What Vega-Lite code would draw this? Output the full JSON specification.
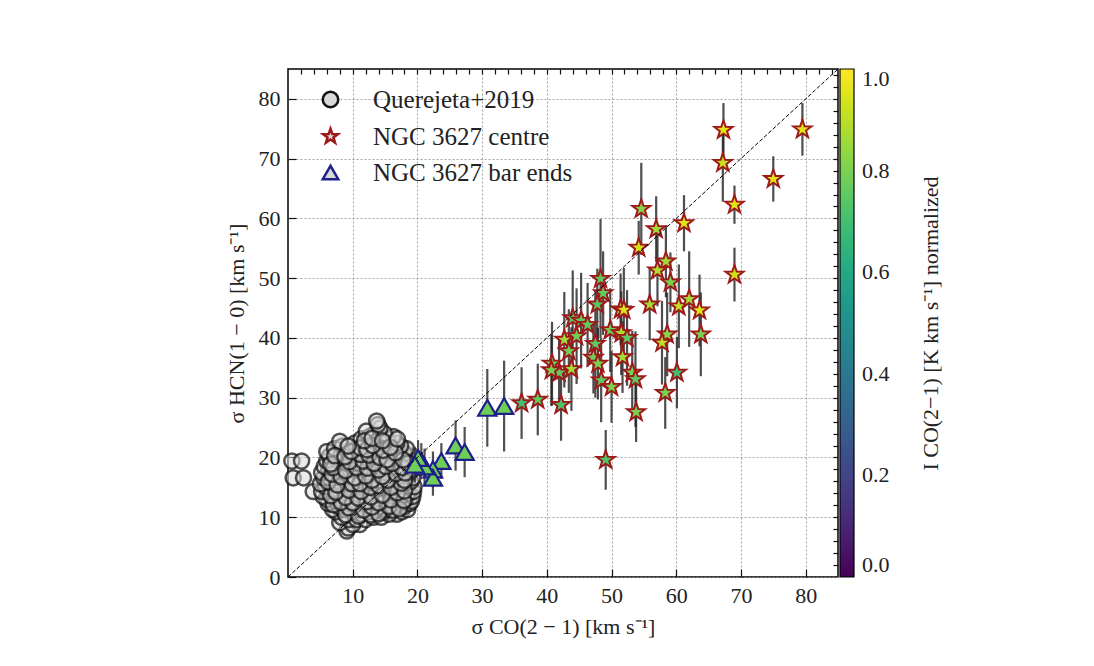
{
  "$schema": "https://vega.github.io/schema/vega-lite/v6.json",
  "width": 550,
  "height": 508,
  "autosize": {"type": "none"},
  "padding": {"left": 288, "top": 69, "right": 256, "bottom": 89},
  "background": "white",
  "config": {
    "font": "Liberation Serif",
    "view": {"stroke": "black", "strokeWidth": 1.5},
    "axis": {"labelFontSize": 22, "titleFontSize": 22, "titleFontWeight": "normal", "labelColor": "#222", "titleColor": "#222", "domain": false, "tickColor": "#111", "tickWidth": 1.2}
  },
  "datasets": {
    "q": [
      {"x":9.1,"y":7.7,"g":"Querejeta+2019"},{"x":9.3,"y":8.2,"g":"Querejeta+2019"},{"x":11.1,"y":8.8,"g":"Querejeta+2019"},{"x":10.0,"y":8.8,"g":"Querejeta+2019"},{"x":8.0,"y":9.1,"g":"Querejeta+2019"},
      {"x":9.4,"y":9.6,"g":"Querejeta+2019"},{"x":10.6,"y":9.6,"g":"Querejeta+2019"},{"x":12.0,"y":9.6,"g":"Querejeta+2019"},{"x":8.3,"y":10.0,"g":"Querejeta+2019"},{"x":13.2,"y":10.0,"g":"Querejeta+2019"},
      {"x":14.4,"y":10.0,"g":"Querejeta+2019"},{"x":16.8,"y":10.5,"g":"Querejeta+2019"},{"x":15.6,"y":10.5,"g":"Querejeta+2019"},{"x":11.3,"y":10.5,"g":"Querejeta+2019"},{"x":7.4,"y":10.9,"g":"Querejeta+2019"},
      {"x":9.9,"y":10.9,"g":"Querejeta+2019"},{"x":12.5,"y":10.9,"g":"Querejeta+2019"},{"x":14.8,"y":10.9,"g":"Querejeta+2019"},{"x":17.6,"y":10.9,"g":"Querejeta+2019"},{"x":6.9,"y":11.3,"g":"Querejeta+2019"},
      {"x":8.6,"y":11.3,"g":"Querejeta+2019"},{"x":15.0,"y":11.3,"g":"Querejeta+2019"},{"x":18.5,"y":11.3,"g":"Querejeta+2019"},{"x":11.0,"y":11.3,"g":"Querejeta+2019"},{"x":13.6,"y":11.3,"g":"Querejeta+2019"},
      {"x":7.8,"y":11.8,"g":"Querejeta+2019"},{"x":10.2,"y":11.8,"g":"Querejeta+2019"},{"x":12.4,"y":11.8,"g":"Querejeta+2019"},{"x":14.2,"y":11.8,"g":"Querejeta+2019"},{"x":16.3,"y":11.8,"g":"Querejeta+2019"},
      {"x":17.9,"y":11.8,"g":"Querejeta+2019"},{"x":6.2,"y":12.3,"g":"Querejeta+2019"},{"x":9.0,"y":12.3,"g":"Querejeta+2019"},{"x":11.6,"y":12.3,"g":"Querejeta+2019"},{"x":13.1,"y":12.3,"g":"Querejeta+2019"},
      {"x":15.4,"y":12.3,"g":"Querejeta+2019"},{"x":17.2,"y":12.3,"g":"Querejeta+2019"},{"x":18.8,"y":12.3,"g":"Querejeta+2019"},{"x":7.3,"y":12.7,"g":"Querejeta+2019"},{"x":10.4,"y":12.7,"g":"Querejeta+2019"},
      {"x":14.6,"y":12.7,"g":"Querejeta+2019"},{"x":16.7,"y":12.7,"g":"Querejeta+2019"},{"x":19.1,"y":12.7,"g":"Querejeta+2019"},{"x":6.0,"y":13.0,"g":"Querejeta+2019"},{"x":8.3,"y":13.0,"g":"Querejeta+2019"},
      {"x":12.1,"y":13.0,"g":"Querejeta+2019"},{"x":13.8,"y":13.0,"g":"Querejeta+2019"},{"x":18.2,"y":13.0,"g":"Querejeta+2019"},{"x":5.4,"y":13.5,"g":"Querejeta+2019"},{"x":7.0,"y":13.5,"g":"Querejeta+2019"},
      {"x":9.6,"y":13.5,"g":"Querejeta+2019"},{"x":11.2,"y":13.5,"g":"Querejeta+2019"},{"x":15.1,"y":13.5,"g":"Querejeta+2019"},{"x":16.4,"y":13.5,"g":"Querejeta+2019"},{"x":17.6,"y":13.5,"g":"Querejeta+2019"},
      {"x":19.3,"y":13.5,"g":"Querejeta+2019"},{"x":6.4,"y":14.0,"g":"Querejeta+2019"},{"x":8.8,"y":14.0,"g":"Querejeta+2019"},{"x":10.5,"y":14.0,"g":"Querejeta+2019"},{"x":12.9,"y":14.0,"g":"Querejeta+2019"},
      {"x":14.3,"y":14.0,"g":"Querejeta+2019"},{"x":18.6,"y":14.0,"g":"Querejeta+2019"},{"x":3.9,"y":14.3,"g":"Querejeta+2019"},{"x":5.2,"y":14.3,"g":"Querejeta+2019"},{"x":16.0,"y":14.3,"g":"Querejeta+2019"},
      {"x":19.4,"y":14.3,"g":"Querejeta+2019"},{"x":7.6,"y":14.7,"g":"Querejeta+2019"},{"x":9.9,"y":14.7,"g":"Querejeta+2019"},{"x":11.8,"y":14.7,"g":"Querejeta+2019"},{"x":13.5,"y":14.7,"g":"Querejeta+2019"},
      {"x":15.3,"y":14.7,"g":"Querejeta+2019"},{"x":17.3,"y":14.7,"g":"Querejeta+2019"},{"x":5.8,"y":15.1,"g":"Querejeta+2019"},{"x":8.4,"y":15.1,"g":"Querejeta+2019"},{"x":10.9,"y":15.1,"g":"Querejeta+2019"},
      {"x":14.5,"y":15.1,"g":"Querejeta+2019"},{"x":16.6,"y":15.1,"g":"Querejeta+2019"},{"x":18.4,"y":15.1,"g":"Querejeta+2019"},{"x":19.5,"y":15.1,"g":"Querejeta+2019"},{"x":5.0,"y":15.6,"g":"Querejeta+2019"},
      {"x":6.9,"y":15.6,"g":"Querejeta+2019"},{"x":9.3,"y":15.6,"g":"Querejeta+2019"},{"x":12.3,"y":15.6,"g":"Querejeta+2019"},{"x":13.4,"y":15.6,"g":"Querejeta+2019"},{"x":15.8,"y":15.6,"g":"Querejeta+2019"},
      {"x":17.9,"y":15.6,"g":"Querejeta+2019"},{"x":7.9,"y":16.0,"g":"Querejeta+2019"},{"x":10.2,"y":16.0,"g":"Querejeta+2019"},{"x":11.5,"y":16.0,"g":"Querejeta+2019"},{"x":14.2,"y":16.0,"g":"Querejeta+2019"},
      {"x":16.9,"y":16.0,"g":"Querejeta+2019"},{"x":19.0,"y":16.0,"g":"Querejeta+2019"},{"x":0.8,"y":16.6,"g":"Querejeta+2019"},{"x":2.4,"y":16.6,"g":"Querejeta+2019"},{"x":5.5,"y":16.6,"g":"Querejeta+2019"},
      {"x":6.4,"y":16.6,"g":"Querejeta+2019"},{"x":8.9,"y":16.6,"g":"Querejeta+2019"},{"x":12.8,"y":16.6,"g":"Querejeta+2019"},{"x":15.2,"y":16.6,"g":"Querejeta+2019"},{"x":18.3,"y":16.6,"g":"Querejeta+2019"},
      {"x":19.3,"y":16.6,"g":"Querejeta+2019"},{"x":7.3,"y":17.0,"g":"Querejeta+2019"},{"x":9.8,"y":17.0,"g":"Querejeta+2019"},{"x":11.2,"y":17.0,"g":"Querejeta+2019"},{"x":13.9,"y":17.0,"g":"Querejeta+2019"},
      {"x":16.1,"y":17.0,"g":"Querejeta+2019"},{"x":17.5,"y":17.0,"g":"Querejeta+2019"},{"x":5.2,"y":17.5,"g":"Querejeta+2019"},{"x":8.5,"y":17.5,"g":"Querejeta+2019"},{"x":10.7,"y":17.5,"g":"Querejeta+2019"},
      {"x":12.4,"y":17.5,"g":"Querejeta+2019"},{"x":14.8,"y":17.5,"g":"Querejeta+2019"},{"x":18.8,"y":17.5,"g":"Querejeta+2019"},{"x":6.3,"y":18.0,"g":"Querejeta+2019"},{"x":7.8,"y":18.0,"g":"Querejeta+2019"},
      {"x":9.5,"y":18.0,"g":"Querejeta+2019"},{"x":13.3,"y":18.0,"g":"Querejeta+2019"},{"x":15.7,"y":18.0,"g":"Querejeta+2019"},{"x":17.0,"y":18.0,"g":"Querejeta+2019"},{"x":19.2,"y":18.0,"g":"Querejeta+2019"},
      {"x":5.6,"y":18.5,"g":"Querejeta+2019"},{"x":11.6,"y":18.5,"g":"Querejeta+2019"},{"x":14.3,"y":18.5,"g":"Querejeta+2019"},{"x":16.5,"y":18.5,"g":"Querejeta+2019"},{"x":18.1,"y":18.5,"g":"Querejeta+2019"},
      {"x":7.1,"y":19.0,"g":"Querejeta+2019"},{"x":8.8,"y":19.0,"g":"Querejeta+2019"},{"x":10.4,"y":19.0,"g":"Querejeta+2019"},{"x":12.8,"y":19.0,"g":"Querejeta+2019"},{"x":15.3,"y":19.0,"g":"Querejeta+2019"},
      {"x":17.6,"y":19.0,"g":"Querejeta+2019"},{"x":19.1,"y":19.0,"g":"Querejeta+2019"},{"x":0.6,"y":19.4,"g":"Querejeta+2019"},{"x":2.1,"y":19.4,"g":"Querejeta+2019"},{"x":6.0,"y":19.4,"g":"Querejeta+2019"},
      {"x":13.9,"y":19.4,"g":"Querejeta+2019"},{"x":16.6,"y":19.4,"g":"Querejeta+2019"},{"x":7.7,"y":19.8,"g":"Querejeta+2019"},{"x":9.6,"y":19.8,"g":"Querejeta+2019"},{"x":11.1,"y":19.8,"g":"Querejeta+2019"},
      {"x":12.2,"y":19.8,"g":"Querejeta+2019"},{"x":14.9,"y":19.8,"g":"Querejeta+2019"},{"x":18.4,"y":19.8,"g":"Querejeta+2019"},{"x":6.4,"y":20.2,"g":"Querejeta+2019"},{"x":10.2,"y":20.2,"g":"Querejeta+2019"},
      {"x":13.4,"y":20.2,"g":"Querejeta+2019"},{"x":16.0,"y":20.2,"g":"Querejeta+2019"},{"x":17.3,"y":20.2,"g":"Querejeta+2019"},{"x":19.3,"y":20.2,"g":"Querejeta+2019"},{"x":8.2,"y":20.7,"g":"Querejeta+2019"},
      {"x":11.8,"y":20.7,"g":"Querejeta+2019"},{"x":14.6,"y":20.7,"g":"Querejeta+2019"},{"x":15.6,"y":20.7,"g":"Querejeta+2019"},{"x":18.0,"y":20.7,"g":"Querejeta+2019"},{"x":6.0,"y":21.0,"g":"Querejeta+2019"},
      {"x":9.1,"y":21.0,"g":"Querejeta+2019"},{"x":12.9,"y":21.0,"g":"Querejeta+2019"},{"x":17.0,"y":21.0,"g":"Querejeta+2019"},{"x":7.2,"y":21.5,"g":"Querejeta+2019"},{"x":10.5,"y":21.5,"g":"Querejeta+2019"},
      {"x":13.8,"y":21.5,"g":"Querejeta+2019"},{"x":15.1,"y":21.5,"g":"Querejeta+2019"},{"x":16.3,"y":21.5,"g":"Querejeta+2019"},{"x":18.3,"y":21.5,"g":"Querejeta+2019"},{"x":8.4,"y":21.9,"g":"Querejeta+2019"},
      {"x":11.6,"y":21.9,"g":"Querejeta+2019"},{"x":14.4,"y":21.9,"g":"Querejeta+2019"},{"x":17.4,"y":21.9,"g":"Querejeta+2019"},{"x":10.3,"y":22.4,"g":"Querejeta+2019"},{"x":12.6,"y":22.4,"g":"Querejeta+2019"},
      {"x":15.6,"y":22.4,"g":"Querejeta+2019"},{"x":16.8,"y":22.4,"g":"Querejeta+2019"},{"x":8.0,"y":22.7,"g":"Querejeta+2019"},{"x":13.5,"y":22.7,"g":"Querejeta+2019"},{"x":11.3,"y":23.1,"g":"Querejeta+2019"},
      {"x":14.3,"y":23.1,"g":"Querejeta+2019"},{"x":15.3,"y":23.1,"g":"Querejeta+2019"},{"x":12.6,"y":23.5,"g":"Querejeta+2019"},{"x":16.3,"y":23.5,"g":"Querejeta+2019"},{"x":13.4,"y":24.0,"g":"Querejeta+2019"},
      {"x":14.9,"y":24.0,"g":"Querejeta+2019"},{"x":12.1,"y":24.4,"g":"Querejeta+2019"},{"x":14.2,"y":24.9,"g":"Querejeta+2019"},{"x":13.9,"y":25.5,"g":"Querejeta+2019"},{"x":13.7,"y":26.1,"g":"Querejeta+2019"},
      {"x":8.9,"y":10.4,"g":"Querejeta+2019"},{"x":10.9,"y":10.2,"g":"Querejeta+2019"},{"x":12.8,"y":10.4,"g":"Querejeta+2019"},{"x":14.0,"y":10.6,"g":"Querejeta+2019"},{"x":16.2,"y":11.2,"g":"Querejeta+2019"},
      {"x":9.4,"y":11.6,"g":"Querejeta+2019"},{"x":11.7,"y":11.2,"g":"Querejeta+2019"},{"x":13.0,"y":11.7,"g":"Querejeta+2019"},{"x":15.6,"y":11.8,"g":"Querejeta+2019"},{"x":17.2,"y":11.4,"g":"Querejeta+2019"},
      {"x":7.0,"y":12.1,"g":"Querejeta+2019"},{"x":8.2,"y":12.5,"g":"Querejeta+2019"},{"x":10.0,"y":12.4,"g":"Querejeta+2019"},{"x":12.2,"y":12.6,"g":"Querejeta+2019"},{"x":14.0,"y":12.4,"g":"Querejeta+2019"},
      {"x":15.9,"y":12.9,"g":"Querejeta+2019"},{"x":17.9,"y":12.8,"g":"Querejeta+2019"},{"x":6.6,"y":13.6,"g":"Querejeta+2019"},{"x":8.9,"y":13.3,"g":"Querejeta+2019"},{"x":10.8,"y":13.2,"g":"Querejeta+2019"},
      {"x":12.8,"y":13.4,"g":"Querejeta+2019"},{"x":14.6,"y":13.7,"g":"Querejeta+2019"},{"x":16.9,"y":14.1,"g":"Querejeta+2019"},{"x":18.0,"y":14.4,"g":"Querejeta+2019"},{"x":7.4,"y":14.2,"g":"Querejeta+2019"},
      {"x":9.4,"y":14.5,"g":"Querejeta+2019"},{"x":11.3,"y":14.3,"g":"Querejeta+2019"},{"x":12.7,"y":15.0,"g":"Querejeta+2019"},{"x":14.0,"y":15.3,"g":"Querejeta+2019"},{"x":15.9,"y":15.0,"g":"Querejeta+2019"},
      {"x":17.5,"y":15.7,"g":"Querejeta+2019"},{"x":6.2,"y":15.9,"g":"Querejeta+2019"},{"x":7.6,"y":15.4,"g":"Querejeta+2019"},{"x":9.9,"y":15.6,"g":"Querejeta+2019"},{"x":11.1,"y":15.6,"g":"Querejeta+2019"},
      {"x":13.0,"y":16.2,"g":"Querejeta+2019"},{"x":15.4,"y":16.2,"g":"Querejeta+2019"},{"x":18.0,"y":16.2,"g":"Querejeta+2019"},{"x":6.8,"y":17.2,"g":"Querejeta+2019"},{"x":8.2,"y":16.8,"g":"Querejeta+2019"},
      {"x":10.3,"y":16.6,"g":"Querejeta+2019"},{"x":12.0,"y":16.9,"g":"Querejeta+2019"},{"x":14.6,"y":16.8,"g":"Querejeta+2019"},{"x":16.7,"y":17.3,"g":"Querejeta+2019"},{"x":18.1,"y":17.4,"g":"Querejeta+2019"},
      {"x":7.0,"y":18.3,"g":"Querejeta+2019"},{"x":8.9,"y":17.8,"g":"Querejeta+2019"},{"x":10.6,"y":18.3,"g":"Querejeta+2019"},{"x":12.3,"y":18.2,"g":"Querejeta+2019"},{"x":14.0,"y":17.9,"g":"Querejeta+2019"},
      {"x":15.1,"y":18.5,"g":"Querejeta+2019"},{"x":17.6,"y":18.3,"g":"Querejeta+2019"},{"x":6.6,"y":18.9,"g":"Querejeta+2019"},{"x":9.5,"y":19.3,"g":"Querejeta+2019"},{"x":11.6,"y":19.4,"g":"Querejeta+2019"},
      {"x":13.3,"y":19.0,"g":"Querejeta+2019"},{"x":16.1,"y":19.0,"g":"Querejeta+2019"},{"x":18.6,"y":19.0,"g":"Querejeta+2019"},{"x":7.2,"y":20.3,"g":"Querejeta+2019"},{"x":8.8,"y":20.1,"g":"Querejeta+2019"},
      {"x":11.2,"y":20.5,"g":"Querejeta+2019"},{"x":12.5,"y":20.4,"g":"Querejeta+2019"},{"x":14.2,"y":20.0,"g":"Querejeta+2019"},{"x":15.3,"y":19.6,"g":"Querejeta+2019"},{"x":17.8,"y":19.6,"g":"Querejeta+2019"},
      {"x":9.8,"y":21.0,"g":"Querejeta+2019"},{"x":11.2,"y":21.6,"g":"Querejeta+2019"},{"x":12.2,"y":21.3,"g":"Querejeta+2019"},{"x":14.7,"y":21.2,"g":"Querejeta+2019"},{"x":16.6,"y":20.8,"g":"Querejeta+2019"},
      {"x":9.3,"y":21.9,"g":"Querejeta+2019"},{"x":13.1,"y":22.0,"g":"Querejeta+2019"},{"x":15.8,"y":21.7,"g":"Querejeta+2019"},{"x":11.8,"y":22.8,"g":"Querejeta+2019"},{"x":13.0,"y":23.2,"g":"Querejeta+2019"},
      {"x":14.6,"y":22.8,"g":"Querejeta+2019"},{"x":16.9,"y":23.1,"g":"Querejeta+2019"}
    ],
    "t": [
      {"x":30.8,"y":28.3,"lo":21.8,"hi":34.8,"c":0.78,"g":"NGC 3627 bar ends"},
      {"x":33.4,"y":28.6,"lo":21.0,"hi":36.2,"c":0.78,"g":"NGC 3627 bar ends"},
      {"x":25.9,"y":22.0,"lo":17.8,"hi":26.2,"c":0.78,"g":"NGC 3627 bar ends"},
      {"x":27.3,"y":20.9,"lo":16.7,"hi":25.1,"c":0.78,"g":"NGC 3627 bar ends"},
      {"x":23.7,"y":19.4,"lo":16.4,"hi":22.4,"c":0.78,"g":"NGC 3627 bar ends"},
      {"x":22.4,"y":18.0,"lo":15.0,"hi":21.0,"c":0.78,"g":"NGC 3627 bar ends"},
      {"x":22.4,"y":16.6,"lo":13.6,"hi":19.6,"c":0.78,"g":"NGC 3627 bar ends"},
      {"x":20.6,"y":19.4,"lo":16.4,"hi":22.4,"c":0.78,"g":"NGC 3627 bar ends"},
      {"x":21.1,"y":18.5,"lo":15.5,"hi":21.5,"c":0.78,"g":"NGC 3627 bar ends"},
      {"x":20.1,"y":19.9,"lo":16.9,"hi":22.9,"c":0.78,"g":"NGC 3627 bar ends"},
      {"x":19.6,"y":18.8,"lo":15.8,"hi":21.8,"c":0.78,"g":"NGC 3627 bar ends"}
    ],
    "s": [
      {"x":67.3,"y":74.8,"lo":70.3,"hi":79.3,"c":0.96,"g":"NGC 3627 centre"},
      {"x":67.2,"y":69.3,"lo":62.8,"hi":75.8,"c":0.92,"g":"NGC 3627 centre"},
      {"x":79.5,"y":74.9,"lo":70.5,"hi":79.3,"c":0.96,"g":"NGC 3627 centre"},
      {"x":75.0,"y":66.6,"lo":62.8,"hi":70.4,"c":0.96,"g":"NGC 3627 centre"},
      {"x":69.0,"y":62.3,"lo":59.1,"hi":65.5,"c":0.96,"g":"NGC 3627 centre"},
      {"x":69.0,"y":50.6,"lo":46.1,"hi":55.1,"c":0.93,"g":"NGC 3627 centre"},
      {"x":54.6,"y":61.6,"lo":53.9,"hi":69.3,"c":0.82,"g":"NGC 3627 centre"},
      {"x":54.2,"y":55.1,"lo":50.6,"hi":59.6,"c":0.94,"g":"NGC 3627 centre"},
      {"x":56.9,"y":58.2,"lo":52.7,"hi":63.7,"c":0.86,"g":"NGC 3627 centre"},
      {"x":61.2,"y":59.2,"lo":54.5,"hi":63.9,"c":0.95,"g":"NGC 3627 centre"},
      {"x":58.4,"y":52.8,"lo":46.8,"hi":58.8,"c":0.86,"g":"NGC 3627 centre"},
      {"x":57.1,"y":51.3,"lo":45.3,"hi":57.3,"c":0.88,"g":"NGC 3627 centre"},
      {"x":59.1,"y":49.3,"lo":44.3,"hi":54.3,"c":0.8,"g":"NGC 3627 centre"},
      {"x":48.3,"y":49.9,"lo":39.9,"hi":59.9,"c":0.75,"g":"NGC 3627 centre"},
      {"x":48.7,"y":47.5,"lo":40.5,"hi":54.5,"c":0.76,"g":"NGC 3627 centre"},
      {"x":47.8,"y":45.6,"lo":39.6,"hi":51.6,"c":0.74,"g":"NGC 3627 centre"},
      {"x":55.9,"y":45.6,"lo":39.6,"hi":51.6,"c":0.86,"g":"NGC 3627 centre"},
      {"x":51.4,"y":44.8,"lo":38.8,"hi":50.8,"c":0.88,"g":"NGC 3627 centre"},
      {"x":51.9,"y":44.7,"lo":37.7,"hi":51.7,"c":0.95,"g":"NGC 3627 centre"},
      {"x":60.4,"y":45.3,"lo":38.3,"hi":52.3,"c":0.9,"g":"NGC 3627 centre"},
      {"x":62.0,"y":46.5,"lo":38.5,"hi":54.5,"c":0.86,"g":"NGC 3627 centre"},
      {"x":63.6,"y":44.6,"lo":38.6,"hi":50.6,"c":0.95,"g":"NGC 3627 centre"},
      {"x":63.8,"y":40.6,"lo":33.6,"hi":47.6,"c":0.8,"g":"NGC 3627 centre"},
      {"x":58.6,"y":40.6,"lo":33.6,"hi":47.6,"c":0.82,"g":"NGC 3627 centre"},
      {"x":57.8,"y":39.2,"lo":32.2,"hi":46.2,"c":0.9,"g":"NGC 3627 centre"},
      {"x":44.0,"y":43.3,"lo":35.3,"hi":51.3,"c":0.76,"g":"NGC 3627 centre"},
      {"x":45.3,"y":42.9,"lo":34.9,"hi":50.9,"c":0.76,"g":"NGC 3627 centre"},
      {"x":46.3,"y":42.2,"lo":35.2,"hi":49.2,"c":0.76,"g":"NGC 3627 centre"},
      {"x":42.7,"y":39.7,"lo":31.7,"hi":47.7,"c":0.86,"g":"NGC 3627 centre"},
      {"x":44.6,"y":40.3,"lo":32.3,"hi":48.3,"c":0.78,"g":"NGC 3627 centre"},
      {"x":43.4,"y":37.8,"lo":30.8,"hi":44.8,"c":0.78,"g":"NGC 3627 centre"},
      {"x":40.8,"y":35.7,"lo":28.7,"hi":42.7,"c":0.78,"g":"NGC 3627 centre"},
      {"x":41.9,"y":34.2,"lo":28.2,"hi":40.2,"c":0.75,"g":"NGC 3627 centre"},
      {"x":40.7,"y":34.6,"lo":28.6,"hi":40.6,"c":0.8,"g":"NGC 3627 centre"},
      {"x":43.8,"y":34.8,"lo":27.8,"hi":41.8,"c":0.86,"g":"NGC 3627 centre"},
      {"x":47.5,"y":39.0,"lo":30.0,"hi":48.0,"c":0.75,"g":"NGC 3627 centre"},
      {"x":47.2,"y":36.7,"lo":30.7,"hi":42.7,"c":0.78,"g":"NGC 3627 centre"},
      {"x":47.9,"y":35.7,"lo":29.7,"hi":41.7,"c":0.8,"g":"NGC 3627 centre"},
      {"x":48.4,"y":32.9,"lo":25.9,"hi":39.9,"c":0.75,"g":"NGC 3627 centre"},
      {"x":50.0,"y":31.8,"lo":25.8,"hi":37.8,"c":0.8,"g":"NGC 3627 centre"},
      {"x":49.8,"y":41.3,"lo":34.3,"hi":48.3,"c":0.78,"g":"NGC 3627 centre"},
      {"x":51.5,"y":40.8,"lo":33.8,"hi":47.8,"c":0.88,"g":"NGC 3627 centre"},
      {"x":52.4,"y":40.0,"lo":32.0,"hi":48.0,"c":0.75,"g":"NGC 3627 centre"},
      {"x":51.7,"y":36.8,"lo":30.8,"hi":42.8,"c":0.86,"g":"NGC 3627 centre"},
      {"x":53.2,"y":34.2,"lo":27.2,"hi":41.2,"c":0.8,"g":"NGC 3627 centre"},
      {"x":53.7,"y":33.1,"lo":25.1,"hi":41.1,"c":0.75,"g":"NGC 3627 centre"},
      {"x":53.8,"y":27.6,"lo":22.6,"hi":32.6,"c":0.8,"g":"NGC 3627 centre"},
      {"x":49.1,"y":19.6,"lo":14.6,"hi":24.6,"c":0.73,"g":"NGC 3627 centre"},
      {"x":42.2,"y":28.8,"lo":22.8,"hi":34.8,"c":0.72,"g":"NGC 3627 centre"},
      {"x":38.6,"y":29.7,"lo":23.7,"hi":35.7,"c":0.76,"g":"NGC 3627 centre"},
      {"x":36.1,"y":29.1,"lo":23.1,"hi":35.1,"c":0.7,"g":"NGC 3627 centre"},
      {"x":60.1,"y":34.2,"lo":28.2,"hi":40.2,"c":0.7,"g":"NGC 3627 centre"},
      {"x":58.3,"y":30.8,"lo":24.8,"hi":36.8,"c":0.8,"g":"NGC 3627 centre"}
    ],
    "diag": [{"x": 0, "y": 0, "x2": 85, "y2": 85}]
  },
  "layer": [
    {
      "layer": [
        {
          "data": {"name": "q"},
          "mark": {"type": "point", "filled": true, "fill": "#d8d8d8", "fillOpacity": 0.55, "strokeWidth": 2.5, "size": 230, "strokeOpacity": 0.72},
          "encoding": {
            "x": {"field": "x", "type": "quantitative", "scale": {"domain": [0, 85], "nice": false, "zero": false},
              "axis": {"orient": "bottom", "values": [10,20,30,40,50,60,70,80],
                "tickSize": -8, "grid": true, "gridColor": "#999", "gridDash": [2, 2], "gridWidth": 1, "gridOpacity": 0.9,
                "labelPadding": 16, "labelFlush": false, "title": "σ CO(2 − 1) [km s⁻¹]", "titlePadding": 10}},
            "y": {"field": "y", "type": "quantitative", "scale": {"domain": [0, 85], "nice": false, "zero": false},
              "axis": {"orient": "left", "values": [0,10,20,30,40,50,60,70,80],
                "tickSize": -8, "grid": true, "gridColor": "#999", "gridDash": [2, 2], "gridWidth": 1, "gridOpacity": 0.9,
                "labelPadding": 16, "labelFlush": false, "title": "σ HCN(1 − 0) [km s⁻¹]", "titlePadding": 10}},
            "shape": {"field": "g", "type": "nominal",
              "scale": {"domain": ["Querejeta+2019", "NGC 3627 centre", "NGC 3627 bar ends"], "range": ["circle", "M0,-1L0.235,-0.324L0.951,-0.309L0.381,0.124L0.588,0.809L0,0.4L-0.588,0.809L-0.381,0.124L-0.951,-0.309L-0.235,-0.324Z", "triangle-up"]},
              "legend": {"orient": "none", "legendX": 30, "legendY": 18, "title": null, "labelFontSize": 25, "labelLimit": 400, "labelColor": "#222", "symbolSize": 240, "symbolStrokeWidth": 2.5, "symbolFillColor": "transparent", "symbolOpacity": 1, "rowPadding": 10, "labelOffset": 30, "padding": 0}},
            "stroke": {"field": "g", "type": "nominal",
              "scale": {"domain": ["Querejeta+2019", "NGC 3627 centre", "NGC 3627 bar ends"], "range": ["#111111", "#9e1a1a", "#1f1f8a"]}}
          }
        },
        {
          "data": {"name": "t"},
          "mark": {"type": "rule", "color": "#333", "strokeWidth": 2.2, "opacity": 0.85},
          "encoding": {"x": {"field": "x", "type": "quantitative"}, "y": {"field": "lo", "type": "quantitative"}, "y2": {"field": "hi"}}
        },
        {
          "data": {"name": "t"},
          "mark": {"type": "point", "filled": true, "strokeWidth": 2.2, "size": 330, "opacity": 1},
          "encoding": {
            "x": {"field": "x", "type": "quantitative"},
            "y": {"field": "y", "type": "quantitative"},
            "shape": {"field": "g", "type": "nominal"},
            "stroke": {"field": "g", "type": "nominal"},
            "fill": {"field": "c", "type": "quantitative", "scale": {"scheme": "viridis", "domain": [0, 1]}}
          }
        },
        {
          "data": {"name": "s"},
          "mark": {"type": "rule", "color": "#222", "strokeWidth": 2.2, "opacity": 0.8},
          "encoding": {"x": {"field": "x", "type": "quantitative"}, "y": {"field": "lo", "type": "quantitative"}, "y2": {"field": "hi"}}
        },
        {
          "data": {"name": "s"},
          "mark": {"type": "point", "filled": true, "strokeWidth": 2, "size": 360, "opacity": 1},
          "encoding": {
            "x": {"field": "x", "type": "quantitative"},
            "y": {"field": "y", "type": "quantitative"},
            "shape": {"field": "g", "type": "nominal"},
            "stroke": {"field": "g", "type": "nominal"},
            "fill": {"field": "c", "type": "quantitative", "scale": {"scheme": "viridis", "domain": [0, 1]},
              "legend": {"orient": "none", "legendX": 552, "legendY": 0, "title": null, "direction": "vertical", "gradientLength": 508, "gradientThickness": 14, "gradientStrokeColor": "black", "gradientStrokeWidth": 1.2, "values": [0, 0.2, 0.4, 0.6, 0.8, 1], "format": ".1f", "labelFontSize": 22, "labelColor": "#222", "labelOffset": 8, "labelOverlap": false, "padding": 0}}
          }
        }
      ]
    },
    {
      "data": {"name": "diag"},
      "mark": {"type": "rule", "color": "black", "strokeWidth": 1, "strokeDash": [4, 2]},
      "encoding": {
        "x": {"field": "x", "type": "quantitative",
          "axis": {"orient": "top", "values": [2,4,6,8,10,12,14,16,18,20,22,24,26,28,30,32,34,36,38,40,42,44,46,48,50,52,54,56,58,60,62,64,66,68,70,72,74,76,78,80,82,84],
            "labels": false, "tickSize": -5, "title": null, "grid": false}},
        "y": {"field": "y", "type": "quantitative",
          "axis": {"orient": "right", "values": [2,4,6,8,10,12,14,16,18,20,22,24,26,28,30,32,34,36,38,40,42,44,46,48,50,52,54,56,58,60,62,64,66,68,70,72,74,76,78,80,82,84],
            "labels": false, "tickSize": -5, "grid": false,
            "title": "I CO(2−1) [K km s⁻¹] normalized", "titleAngle": 270, "titleX": 92, "titleY": 254, "titleAlign": "center", "titleBaseline": "middle"}},
        "x2": {"field": "x2"},
        "y2": {"field": "y2"}
      }
    }
  ],
  "resolve": {"axis": {"x": "independent", "y": "independent"}}
}
